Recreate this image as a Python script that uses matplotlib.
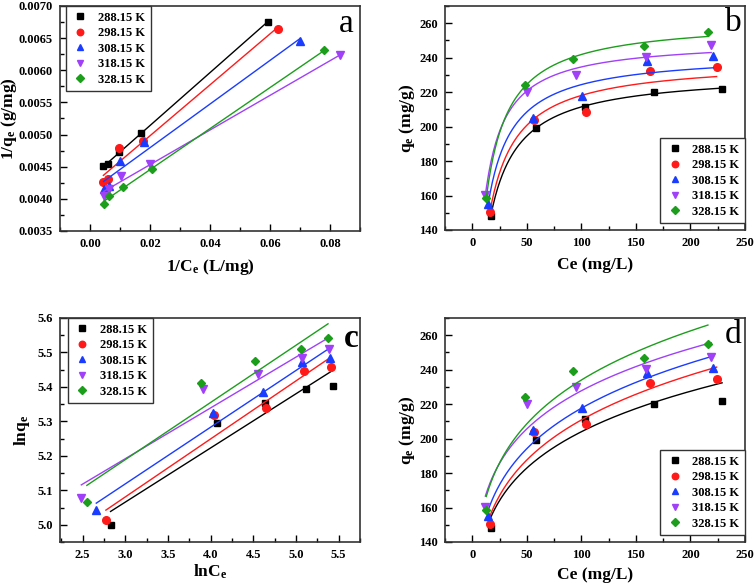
import numpy as np
import matplotlib

matplotlib.use("Agg")
import matplotlib.pyplot as plt
from matplotlib.lines import Line2D
from matplotlib.ticker import MultipleLocator, FormatStrFormatter

plt.rcParams["font.family"] = ["Liberation Serif", "DejaVu Serif"]
plt.rcParams["mathtext.fontset"] = "custom"
plt.rcParams["mathtext.rm"] = "Liberation Serif:bold"
plt.rcParams["mathtext.it"] = "Liberation Serif:bold"
plt.rcParams["mathtext.bf"] = "Liberation Serif:bold"

# equilibrium data (Ce in mg/L, qe in mg/g)
temps = ["288.15 K", "298.15 K", "308.15 K", "318.15 K", "328.15 K"]
ce_288 = [16.9, 58.5, 103.0, 167.0, 229.0]
qe_288 = [148.1, 199.2, 211.4, 220.3, 221.7]
ce_298 = [16.0, 57.0, 104.0, 162.5, 224.0]
qe_298 = [150.5, 204.0, 208.5, 232.0, 234.5]
ce_308 = [14.3, 56.0, 101.0, 160.0, 221.0]
qe_308 = [155.0, 205.0, 218.0, 238.0, 241.0]
ce_318 = [12.0, 50.0, 95.5, 159.0, 219.0]
qe_318 = [160.5, 220.0, 230.0, 240.5, 247.5]
ce_328 = [12.8, 48.5, 92.0, 157.0, 216.0]
qe_328 = [158.5, 224.0, 239.0, 247.0, 255.0]

ce_sets = [ce_288, ce_298, ce_308, ce_318, ce_328]
qe_sets = [qe_288, qe_298, qe_308, qe_318, qe_328]

colors = ["#000000", "#ff1a1a", "#1a3cff", "#a040f8", "#1c9e1c"]
markers = ["s", "o", "^", "v", "D"]
msizes = [5, 5.5, 5.5, 5.5, 4.5]

fig = plt.figure(figsize=(7.56, 5.85), dpi=100)
W, H = 756, 585


def add_ax(l, t, r, b):
    return fig.add_axes([l / W, 1 - b / H, (r - l) / W, (b - t) / H])


ax_a = add_ax(60, 6, 360, 231)
ax_b = add_ax(445, 6, 745, 230)
ax_c = add_ax(60, 318, 360, 542)
ax_d = add_ax(445, 318, 745, 542)

for ce, qe, col, mk, ms in zip(ce_sets, qe_sets, colors, markers, msizes):
    ce = np.array(ce)
    qe = np.array(qe)

    # Langmuir, linear form
    x, y = 1 / ce, 1 / qe
    slope, icpt = np.polyfit(x, y, 1)
    xs = np.array([x.min(), x.max()])
    ax_a.plot(xs, slope * xs + icpt, color=col, lw=1)
    ax_a.plot(x, y, ls="none", marker=mk, ms=ms, color=col)

    # Langmuir curve
    qm, kl = 1 / icpt, icpt / slope
    cs = np.linspace(ce.min(), ce.max(), 200)
    ax_b.plot(cs, qm * kl * cs / (1 + kl * cs), color=col, lw=1)
    ax_b.plot(ce, qe, ls="none", marker=mk, ms=ms, color=col)

    # Freundlich, linear form
    lx, ly = np.log(ce), np.log(qe)
    fs, fi = np.polyfit(lx, ly, 1)
    xs = np.array([lx.min(), lx.max()])
    ax_c.plot(xs, fs * xs + fi, color=col, lw=1)
    ax_c.plot(lx, ly, ls="none", marker=mk, ms=ms, color=col)

    # Freundlich curve
    ax_d.plot(cs, np.exp(fi) * cs ** fs, color=col, lw=1)
    ax_d.plot(ce, qe, ls="none", marker=mk, ms=ms, color=col)

ax_a.set_xlim(-0.01, 0.09)
ax_a.set_ylim(0.0035, 0.0070)
ax_a.xaxis.set_major_locator(MultipleLocator(0.02))
ax_a.xaxis.set_minor_locator(MultipleLocator(0.01))
ax_a.yaxis.set_major_locator(MultipleLocator(0.0005))
ax_a.yaxis.set_minor_locator(MultipleLocator(0.00025))
ax_a.xaxis.set_major_formatter(FormatStrFormatter("%.2f"))
ax_a.yaxis.set_major_formatter(FormatStrFormatter("%.4f"))
ax_a.set_xlabel(r"1/C$_\mathregular{e}$ (L/mg)")
ax_a.set_ylabel(r"1/q$_\mathregular{e}$ (g/mg)")

for ax in (ax_b, ax_d):
    ax.set_xlim(-25, 250)
    ax.set_ylim(140, 270)
    ax.xaxis.set_major_locator(MultipleLocator(50))
    ax.xaxis.set_minor_locator(MultipleLocator(25))
    ax.yaxis.set_major_locator(MultipleLocator(20))
    ax.yaxis.set_minor_locator(MultipleLocator(10))
    ax.set_xlabel("Ce (mg/L)")
    ax.set_ylabel(r"q$_\mathregular{e}$ (mg/g)")

ax_c.set_xlim(2.235, 5.75)
ax_c.set_ylim(4.95, 5.6)
ax_c.xaxis.set_major_locator(MultipleLocator(0.5))
ax_c.xaxis.set_minor_locator(MultipleLocator(0.25))
ax_c.yaxis.set_major_locator(MultipleLocator(0.1))
ax_c.yaxis.set_minor_locator(MultipleLocator(0.05))
ax_c.xaxis.set_major_formatter(FormatStrFormatter("%.1f"))
ax_c.yaxis.set_major_formatter(FormatStrFormatter("%.1f"))
ax_c.set_xlabel(r"lnC$_\mathregular{e}$")
ax_c.set_ylabel(r"lnq$_\mathregular{e}$")

handles = [
    Line2D([], [], ls="none", marker=mk, ms=ms * 0.85, color=col)
    for col, mk, ms in zip(colors, markers, msizes)
]
legend_kw = dict(
    frameon=True, fancybox=False, edgecolor="#333333", framealpha=1,
    prop={"weight": "bold", "size": 9}, handletextpad=0.7,
    borderpad=0.45, labelspacing=0.28, handlelength=1.4, borderaxespad=0,
)

ax_a.legend(handles, temps, loc="upper left", bbox_to_anchor=(0.02, 1.0), **legend_kw)
ax_c.legend(handles, temps, loc="upper left", bbox_to_anchor=(0.027, 1.0), **legend_kw)
ax_b.legend(handles, temps, loc="lower right", bbox_to_anchor=(1.0, 0.03), **legend_kw)
ax_d.legend(handles, temps, loc="lower right", bbox_to_anchor=(1.0, 0.03), **legend_kw)

letters = [(ax_a, "a", 0.955, 0.92, "normal"), (ax_b, "b", 0.962, 0.925, "normal"),
           (ax_c, "c", 0.972, 0.91, "bold"), (ax_d, "d", 0.96, 0.925, "normal")]
for ax, txt, lx, ly, wt in letters:
    ax.text(lx, ly, txt, transform=ax.transAxes, ha="center", va="center",
            fontsize=24, fontweight=wt)

xlabel_y = {ax_a: -0.115, ax_b: -0.12, ax_c: -0.09, ax_d: -0.11}
ylabel_x = {ax_a: -0.135, ax_b: -0.093, ax_c: -0.093, ax_d: -0.093}

for ax in (ax_a, ax_b, ax_c, ax_d):
    ax.tick_params(which="both", direction="in", top=False, right=False,
                   labelsize=9, width=1)
    ax.tick_params(which="major", length=5, pad=5)
    ax.tick_params(which="minor", length=3)
    for lab in ax.get_xticklabels() + ax.get_yticklabels():
        lab.set_fontweight("bold")
    for sp in ax.spines.values():
        sp.set_linewidth(1.2)
        sp.set_color("#333333")
    ax.xaxis.label.set_size(12.5)
    ax.xaxis.label.set_weight("bold")
    ax.yaxis.label.set_size(12.5)
    ax.yaxis.label.set_weight("bold")
    ax.xaxis.set_label_coords(0.5, xlabel_y[ax])
    ax.yaxis.set_label_coords(ylabel_x[ax], 0.5)

fig.savefig("out.png", dpi=100, facecolor="white")
